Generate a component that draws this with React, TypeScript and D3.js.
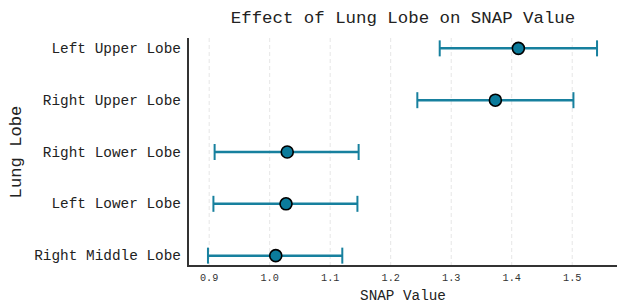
import React, { useRef, useEffect } from "react";
import * as d3 from "d3";

const lobes = ["Left Upper Lobe", "Right Upper Lobe", "Right Lower Lobe", "Left Lower Lobe", "Right Middle Lobe"];
const snapMean = [1.411, 1.373, 1.029, 1.027, 1.010];
const ciLow = [1.281, 1.244, 0.909, 0.907, 0.898];
const ciHigh = [1.541, 1.502, 1.147, 1.145, 1.120];
const xTicks = [0.9, 1.0, 1.1, 1.2, 1.3, 1.4, 1.5];

const FONT = "'Liberation Mono', 'Courier New', monospace";

const App = () => {
  const svgRef = useRef<SVGSVGElement>(null);

  useEffect(() => {
    const width = 617;
    const height = 303;
    const m = { top: 38, right: 0, bottom: 37, left: 188 };

    const svg = d3.select(svgRef.current);
    svg.selectAll("*").remove();
    svg.attr("width", width).attr("height", height)
      .style("display", "block")
      .style("position", "absolute")
      .style("left", "0px")
      .style("top", "0px");

    const x = d3.scaleLinear().domain([0.865, 1.574]).range([m.left, width - m.right]);
    const y = d3.scalePoint<string>().domain(lobes).range([m.top, height - m.bottom]).padding(0.2);

    const rows = lobes.map((name, i) => ({ name, mean: snapMean[i], lo: ciLow[i], hi: ciHigh[i] }));

    // grid
    svg.append("g")
      .selectAll("line")
      .data(xTicks)
      .join("line")
      .attr("x1", (d) => x(d)).attr("x2", (d) => x(d))
      .attr("y1", m.top).attr("y2", height - m.bottom)
      .attr("stroke", "#e6e6e6")
      .attr("stroke-width", 1)
      .attr("stroke-dasharray", "4,3");

    // error bars
    const bars = svg.append("g").selectAll("g").data(rows).join("g");
    bars.append("line")
      .attr("x1", (d) => x(d.lo)).attr("x2", (d) => x(d.hi))
      .attr("y1", (d) => y(d.name)!).attr("y2", (d) => y(d.name)!)
      .attr("stroke", "#17809e").attr("stroke-width", 2.5);
    bars.selectAll("line.cap")
      .data((d) => [d.lo, d.hi].map((v) => ({ v, n: d.name })))
      .join("line")
      .attr("class", "cap")
      .attr("x1", (d) => x(d.v)).attr("x2", (d) => x(d.v))
      .attr("y1", (d) => y(d.n)! - 8).attr("y2", (d) => y(d.n)! + 8)
      .attr("stroke", "#17809e").attr("stroke-width", 2);
    bars.append("circle")
      .attr("cx", (d) => x(d.mean)).attr("cy", (d) => y(d.name)!)
      .attr("r", 6)
      .attr("fill", "#0b7b9b")
      .attr("stroke", "#000").attr("stroke-width", 1.6);

    // spines
    svg.append("line")
      .attr("x1", m.left).attr("x2", m.left)
      .attr("y1", m.top).attr("y2", height - m.bottom + 1)
      .attr("stroke", "#333").attr("stroke-width", 2);
    svg.append("line")
      .attr("x1", m.left - 1).attr("x2", width)
      .attr("y1", height - m.bottom).attr("y2", height - m.bottom)
      .attr("stroke", "#333").attr("stroke-width", 2);

    // x tick labels
    svg.append("g")
      .selectAll("text")
      .data(xTicks)
      .join("text")
      .attr("x", (d) => x(d)).attr("y", height - m.bottom + 15)
      .attr("text-anchor", "middle")
      .attr("font-family", FONT).attr("font-size", 10.2)
      .attr("fill", "#333")
      .text((d) => d3.format(".1f")(d));

    // y tick labels
    svg.append("g")
      .selectAll("text")
      .data(lobes)
      .join("text")
      .attr("x", m.left - 7).attr("y", (d) => y(d)!)
      .attr("dy", "0.32em")
      .attr("text-anchor", "end")
      .attr("font-family", FONT).attr("font-size", 14.4)
      .attr("fill", "#222")
      .text((d) => d);

    // title and axis labels
    svg.append("text")
      .attr("x", 403).attr("y", 23)
      .attr("text-anchor", "middle")
      .attr("font-family", FONT).attr("font-size", 17.4)
      .attr("fill", "#222")
      .text("Effect of Lung Lobe on SNAP Value");
    svg.append("text")
      .attr("x", 403).attr("y", 300)
      .attr("text-anchor", "middle")
      .attr("font-family", FONT).attr("font-size", 14.3)
      .attr("fill", "#222")
      .text("SNAP Value");
    svg.append("text")
      .attr("transform", `translate(21,${(m.top + height - m.bottom) / 2}) rotate(-90)`)
      .attr("text-anchor", "middle")
      .attr("font-family", FONT).attr("font-size", 17.2)
      .attr("fill", "#222")
      .text("Lung Lobe");
  }, []);

  return <svg ref={svgRef}></svg>;
};

export default App;
